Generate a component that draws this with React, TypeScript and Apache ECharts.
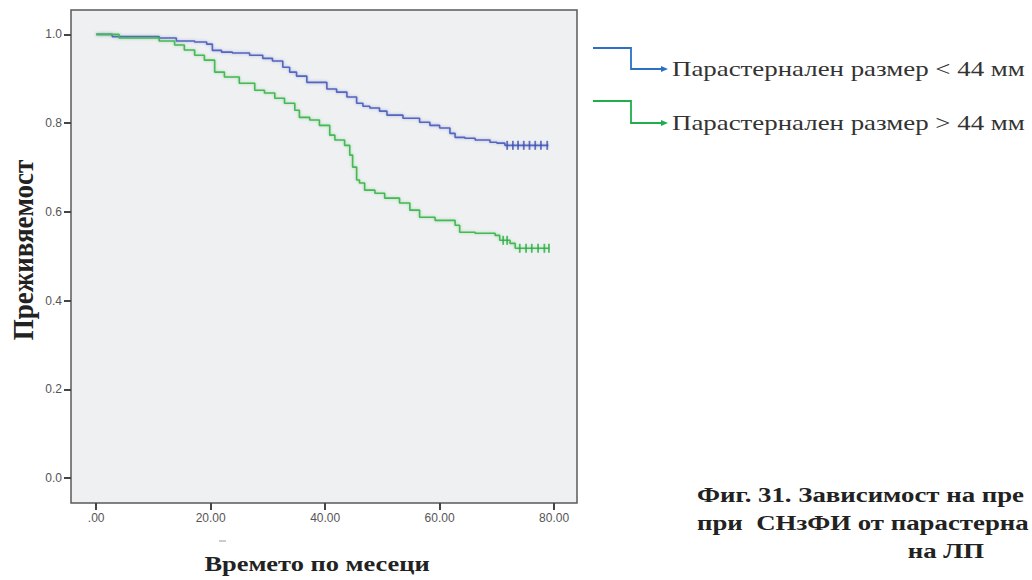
import React, { useEffect, useRef } from "react";
import * as echarts from "echarts";

// Axis ticks
const xTicks = [0, 20, 40, 60, 80];
const yTicks = [0, 0.2, 0.4, 0.6, 0.8, 1.0];

// Kaplan–Meier steps, parasternal size < 44 mm (time in months, survival)
const smallTimes = [0, 2.8, 11.0, 14.0, 17.2, 19.3, 20.3, 21.9, 23.8, 26.8, 29.1, 30.8, 32.6, 33.8, 35.0, 36.8, 40.3, 42.0, 43.8, 45.5, 46.6, 47.8, 49.5, 50.8, 53.6, 56.5, 58.3, 60.0, 61.8, 62.7, 64.4, 66.2, 68.8, 70.0, 71.4, 79.0];
const smallSurv = [1.0, 0.995, 0.992, 0.985, 0.983, 0.978, 0.964, 0.96, 0.958, 0.953, 0.946, 0.94, 0.926, 0.915, 0.906, 0.892, 0.877, 0.87, 0.859, 0.845, 0.838, 0.834, 0.827, 0.818, 0.811, 0.802, 0.795, 0.789, 0.777, 0.768, 0.766, 0.762, 0.757, 0.755, 0.75, 0.75];
const smallCensorTimes = [71.8, 72.8, 73.7, 74.7, 75.7, 76.7, 77.7, 78.8];
const smallCensorSurv = [0.75, 0.75, 0.75, 0.75, 0.75, 0.75, 0.75, 0.75];

// Kaplan–Meier steps, parasternal size > 44 mm
const largeTimes = [0, 4.0, 11.0, 13.7, 15.4, 17.2, 18.9, 20.7, 22.4, 25.0, 27.7, 29.4, 31.2, 32.9, 34.7, 35.5, 37.3, 39.0, 40.8, 41.7, 43.4, 44.3, 44.8, 45.5, 46.0, 46.9, 48.7, 50.4, 53.0, 54.8, 56.5, 59.2, 62.7, 63.5, 66.2, 69.7, 70.5, 72.3, 73.2, 79.1];
const largeSurv = [1.0, 0.992, 0.985, 0.976, 0.965, 0.953, 0.942, 0.915, 0.904, 0.89, 0.874, 0.868, 0.856, 0.845, 0.829, 0.813, 0.807, 0.795, 0.773, 0.762, 0.75, 0.728, 0.701, 0.672, 0.665, 0.649, 0.642, 0.631, 0.62, 0.604, 0.588, 0.581, 0.57, 0.554, 0.552, 0.547, 0.536, 0.529, 0.518, 0.518];
const largeCensorTimes = [71.1, 71.8, 74.0, 75.1, 76.1, 77.2, 78.3, 79.1];
const largeCensorSurv = [0.536, 0.536, 0.518, 0.518, 0.518, 0.518, 0.518, 0.518];

const legendLabels = ["Парастернален размер < 44 мм", "Парастернален размер > 44 мм"];
const xTitle = "Времето по месеци";
const yTitle = "Преживяемост";
const captionLines = ["Фиг. 31. Зависимост на пре", "при  СНзФИ от парастерна", "на ЛП"];

const zip = (a: number[], b: number[]) => a.map((v, i) => [v, b[i]]);

const BLUE = "#5366c0";
const GREEN = "#45b955";
const BLUE_MARK = "#3c52b2";
const GREEN_MARK = "#27ad45";
const LEG_BLUE = "#2c70c6";
const LEG_GREEN = "#1fae4c";

// Serif typography in this figure is set wide, so texts get a horizontal stretch
const WIDE = 1.22;

export default function App() {
  const ref = useRef<HTMLDivElement>(null);

  useEffect(() => {
    if (!ref.current) return;
    const chart = echarts.init(ref.current, null, { renderer: "svg" });

    const legendArrow = (y0: number, y1: number, color: string) => [
      {
        type: "polyline",
        shape: { points: [[593, y0], [631, y0], [631, y1], [664, y1]] },
        style: { stroke: color, lineWidth: 1.8, fill: null },
      },
      {
        type: "polygon",
        shape: { points: [[661, y1 - 3], [668, y1], [661, y1 + 3]] },
        style: { fill: color },
      },
    ];

    const legendText = (y: number, text: string) => ({
      type: "text",
      x: 672,
      y,
      scaleX: 1.28,
      style: {
        text,
        font: '21px "Liberation Serif"',
        fill: "#333",
        verticalAlign: "middle",
        textAlign: "left",
      },
    });

    const captionText = (x: number, y: number, text: string, align: string) => ({
      type: "text",
      x,
      y,
      scaleX: WIDE,
      style: {
        text,
        font: 'bold 22px "Liberation Serif"',
        fill: "#222",
        verticalAlign: "middle",
        textAlign: align,
      },
    });

    chart.setOption({
      animation: false,
      backgroundColor: "#ffffff",
      grid: {
        left: 71,
        top: 10,
        right: 455,
        bottom: 77,
        show: true,
        backgroundColor: "#eff0f2",
        borderColor: "#5a5a5a",
        borderWidth: 1.5,
      },
      xAxis: {
        type: "value",
        min: -4.4,
        max: 84,
        axisLine: { show: false, onZero: false },
        splitLine: { show: false },
        axisTick: {
          show: true,
          length: 7,
          customValues: xTicks,
          lineStyle: { color: "#444", width: 2 },
        },
        axisLabel: {
          customValues: xTicks,
          formatter: (v: number) => (v === 0 ? ".00" : v.toFixed(2)),
          color: "#555",
          fontSize: 12,
          fontFamily: "Liberation Sans",
          margin: 9,
        },
      },
      yAxis: {
        type: "value",
        min: -0.056,
        max: 1.055,
        axisLine: { show: false, onZero: false },
        splitLine: { show: false },
        axisTick: {
          show: true,
          length: 7,
          customValues: yTicks,
          lineStyle: { color: "#444", width: 2 },
        },
        axisLabel: {
          customValues: yTicks,
          formatter: (v: number) => v.toFixed(1),
          color: "#555",
          fontSize: 12,
          fontFamily: "Liberation Sans",
          margin: 9,
        },
      },
      series: [
        {
          type: "line",
          step: "end",
          showSymbol: false,
          symbol: "none",
          data: zip(smallTimes, smallSurv),
          lineStyle: {
            color: BLUE,
            width: 1.6,
            shadowColor: "rgba(83,102,192,0.45)",
            shadowBlur: 3,
          },
          z: 3,
        },
        {
          type: "line",
          step: "end",
          showSymbol: false,
          symbol: "none",
          data: zip(largeTimes, largeSurv),
          lineStyle: {
            color: GREEN,
            width: 1.6,
            shadowColor: "rgba(69,185,85,0.45)",
            shadowBlur: 3,
          },
          z: 3,
        },
        {
          type: "scatter",
          symbol: "rect",
          symbolSize: [1.8, 9],
          data: zip(smallCensorTimes, smallCensorSurv),
          itemStyle: { color: BLUE_MARK },
          z: 4,
        },
        {
          type: "scatter",
          symbol: "rect",
          symbolSize: [1.8, 9],
          data: zip(largeCensorTimes, largeCensorSurv),
          itemStyle: { color: GREEN_MARK },
          z: 4,
        },
      ],
      graphic: [
        ...legendArrow(48, 69, LEG_BLUE),
        ...legendArrow(101, 123, LEG_GREEN),
        legendText(69, legendLabels[0]),
        legendText(123, legendLabels[1]),
        {
          type: "text",
          x: 22,
          y: 250,
          rotation: Math.PI / 2,
          scaleY: 1.12,
          style: {
            text: yTitle,
            font: 'bold 27px "Liberation Serif"',
            fill: "#222",
            textAlign: "center",
            verticalAlign: "middle",
          },
        },
        {
          type: "text",
          x: 317,
          y: 563,
          scaleX: 1.2,
          style: {
            text: xTitle,
            font: 'bold 22px "Liberation Serif"',
            fill: "#222",
            textAlign: "center",
            verticalAlign: "middle",
          },
        },
        {
          type: "line",
          shape: { x1: 219, y1: 541, x2: 226, y2: 541 },
          style: { stroke: "#999", lineWidth: 1 },
        },
        captionText(697, 494, captionLines[0], "left"),
        captionText(697, 522, captionLines[1], "left"),
        captionText(946, 550, captionLines[2], "center"),
      ],
    });

    return () => chart.dispose();
  }, []);

  return (
    <div
      ref={ref}
      style={{ position: "fixed", left: 0, top: 0, width: 1032, height: 580 }}
    />
  );
}
